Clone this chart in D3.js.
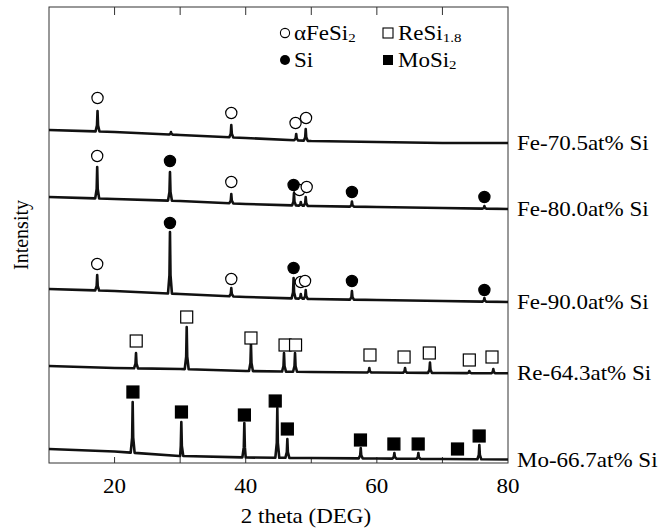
<!DOCTYPE html>
<html>
<head>
<meta charset="utf-8">
<script src="https://cdn.jsdelivr.net/npm/d3@7/dist/d3.min.js"></script>
<style>
  body { margin: 0; background: #fff }
  text { font-family: "Liberation Serif", "Times New Roman", serif; fill: #000 }
</style>
</head>
<body>
<svg id="chart" width="670" height="532"></svg>
<script>
// sample names, top to bottom
var samples = ["Fe-70.5at% Si", "Fe-80.0at% Si", "Fe-90.0at% Si", "Re-64.3at% Si", "Mo-66.7at% Si"]

// background level of every trace (arbitrary intensity units) at these 2 theta values
var baseTheta = [10, 20, 30, 40, 50, 60, 70, 80]
var baseFe705 = [333, 331, 328, 325, 322, 321, 320, 320]
var baseFe800 = [266, 264, 262, 259, 257, 256, 255, 254]
var baseFe900 = [174, 172, 169, 166, 164, 163, 162, 161]
var baseRe643 = [97, 95, 94, 92, 91, 90.5, 90, 89.7]
var baseMo667 = [14, 11.5, 7, 5.5, 5, 4.5, 4, 3.5]

// peaks: [2 theta, top intensity]
var peaksFe705 = [[17.4, 352], [28.6, 331], [37.8, 338], [47.7, 329], [49.15, 334]]
var peaksFe800 = [[17.35, 296], [28.45, 291], [37.8, 269], [47.36, 270], [48.4, 261], [49.15, 266], [56.2, 261.5], [76.4, 257]]
var peaksFe900 = [[17.35, 188], [28.45, 231], [37.8, 175], [47.3, 185], [48.4, 169], [49.15, 173], [56.2, 172], [76.4, 165]]
var peaksRe643 = [[23.27, 110], [31.0, 136], [40.8, 119], [45.84, 110], [47.52, 110], [58.85, 95], [64.3, 95], [68.1, 100.5], [74.1, 92], [77.76, 94]]
var peaksMo667 = [[22.76, 61], [30.18, 41], [39.79, 40], [44.82, 55], [46.35, 24], [57.54, 15], [62.67, 10], [66.33, 10], [75.63, 18]]

// phase marks: [phase, 2 theta, intensity]
// a = alpha FeSi2, s = Si, r = ReSi1.8, m = MoSi2
var marksFe705 = [["a", 17.4, 365], ["a", 37.8, 350], ["a", 47.6, 340], ["a", 49.2, 345]]
var marksFe800 = [["a", 17.35, 307], ["s", 28.45, 302], ["a", 37.8, 281], ["a", 48.2, 273], ["s", 47.3, 278], ["a", 49.3, 276], ["s", 56.2, 271], ["s", 76.4, 266]]
var marksFe900 = [["a", 17.35, 199], ["s", 28.45, 240], ["a", 37.8, 184], ["a", 48.4, 181], ["s", 47.3, 195], ["a", 49.05, 182], ["s", 56.2, 182], ["s", 76.4, 173]]
var marksRe643 = [["r", 23.3, 122], ["r", 31.0, 146], ["r", 40.8, 125], ["r", 46.0, 118], ["r", 47.6, 118], ["r", 58.95, 108], ["r", 64.15, 106], ["r", 68.0, 110], ["r", 74.1, 103], ["r", 77.56, 106]]
var marksMo667 = [["m", 22.8, 71], ["m", 30.2, 51], ["m", 39.8, 48], ["m", 44.5, 62], ["m", 46.35, 34], ["m", 57.5, 23], ["m", 62.6, 19], ["m", 66.3, 19], ["m", 72.3, 14], ["m", 75.6, 27]]

var xTicks = [20, 30, 40, 50, 60, 70]
var xLabels = [20, 40, 60, 80]

var bases = [baseFe705, baseFe800, baseFe900, baseRe643, baseMo667]
var peaks = [peaksFe705, peaksFe800, peaksFe900, peaksRe643, peaksMo667]
var marks = [marksFe705, marksFe800, marksFe900, marksRe643, marksMo667]

var svg = d3.select("#chart")
var plotL = 49, plotR = 508, plotT = 7, plotB = 463
var stretch = 1.15   // glyphs in the picture are a bit wide

var x = d3.scaleLinear().domain([10, 80]).range([plotL, plotR])
var y = d3.scaleLinear().domain([0, plotB - plotT]).range([plotB, plotT])

function label(parent, px, py, txt, anchor, size) {
  return parent.append("text")
    .attr("transform", "translate(" + px + "," + py + ") scale(" + stretch + ",1)")
    .attr("text-anchor", anchor || "start")
    .attr("font-size", size || 20)
    .text(txt)
}

// frame
svg.append("rect")
  .attr("x", plotL).attr("y", plotT)
  .attr("width", plotR - plotL).attr("height", plotB - plotT)
  .attr("fill", "none").attr("stroke", "#333").attr("stroke-width", 1)

svg.selectAll(".tick-top").data(xTicks).enter().append("line")
  .attr("x1", x).attr("x2", x).attr("y1", plotT).attr("y2", plotT + 8)
  .attr("stroke", "#333")
svg.selectAll(".tick-bot").data(xTicks).enter().append("line")
  .attr("x1", x).attr("x2", x).attr("y1", plotB).attr("y2", plotB - 6)
  .attr("stroke", "#333")

xLabels.forEach(function (v) { label(svg, x(v), 493, String(v), "middle") })
label(svg, 306, 523, "2 theta (DEG)", "middle")
svg.append("text")
  .attr("transform", "translate(28,235) rotate(-90)")
  .attr("text-anchor", "middle").attr("font-size", 20)
  .text("Intensity")

// traces
var line = d3.line().x(function (d) { return x(d[0]) }).y(function (d) { return y(d[1]) })

samples.forEach(function (name, i) {
  var base = d3.scaleLinear().domain(baseTheta).range(bases[i])
  var pts = baseTheta.map(function (t, k) { return [t, bases[i][k]] })
  peaks[i].forEach(function (p) {
    pts.push([p[0] - 0.3, base(p[0] - 0.3)])
    pts.push([p[0] - 0.08, base(p[0]) + (p[1] - base(p[0])) * 0.3])
    pts.push([p[0], p[1]])
    pts.push([p[0] + 0.08, base(p[0]) + (p[1] - base(p[0])) * 0.3])
    pts.push([p[0] + 0.3, base(p[0] + 0.3)])
  })
  pts.sort(function (a, b) { return a[0] - b[0] })

  svg.append("path")
    .attr("d", line(pts))
    .attr("fill", "none")
    .attr("stroke", "#111")
    .attr("stroke-width", 2.6)
    .attr("stroke-linejoin", "round")

  label(svg, plotR + 9, y(bases[i][bases[i].length - 1]) + 7, name, "start")

  var g = svg.append("g")
  marks[i].forEach(function (m) {
    var cx = x(m[1]), cy = y(m[2])
    if (m[0] == "a" || m[0] == "s") {
      g.append("circle")
        .attr("cx", cx).attr("cy", cy).attr("r", 5.6)
        .attr("fill", m[0] == "s" ? "#000" : "#fff")
        .attr("stroke", "#000").attr("stroke-width", 1.2)
    } else {
      var s = 12
      g.append("rect")
        .attr("x", cx - s / 2).attr("y", cy - s / 2)
        .attr("width", s).attr("height", s)
        .attr("fill", m[0] == "m" ? "#000" : "#fff")
        .attr("stroke", "#000").attr("stroke-width", 1.2)
    }
  })
})

// legend
var leg = svg.append("g")
leg.append("circle").attr("cx", 285).attr("cy", 33).attr("r", 4.6)
  .attr("fill", "#fff").attr("stroke", "#000").attr("stroke-width", 1.1)
leg.append("circle").attr("cx", 285).attr("cy", 60).attr("r", 5)
  .attr("fill", "#000")
leg.append("rect").attr("x", 383).attr("y", 28).attr("width", 10).attr("height", 10)
  .attr("fill", "#fff").attr("stroke", "#000").attr("stroke-width", 1.1)
leg.append("rect").attr("x", 383).attr("y", 55).attr("width", 10).attr("height", 10)
  .attr("fill", "#000")

function legText(px, py, main, sub) {
  var t = label(leg, px, py, main, "start")
  if (sub) t.append("tspan").attr("font-size", 13).attr("dy", 2).text(sub)
}
legText(294, 39.5, "\u03b1FeSi", "2")
legText(398, 39.5, "ReSi", "1.8")
legText(294, 66.5, "Si")
legText(398, 66.5, "MoSi", "2")
</script>
</body>
</html>
